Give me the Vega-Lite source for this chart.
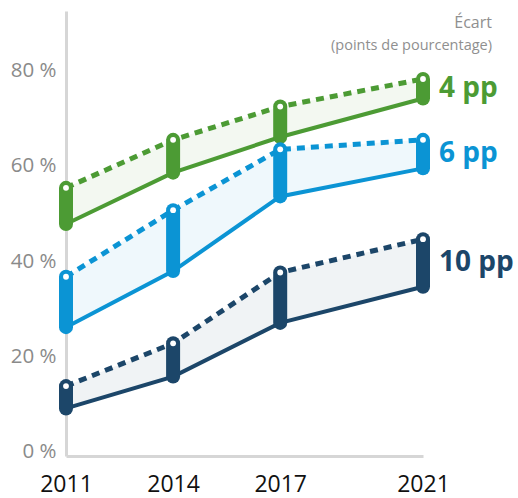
{
  "$schema": "https://vega.github.io/schema/vega-lite/v6.json",
  "autosize": {"type": "none"},
  "width": 357,
  "height": 445,
  "padding": {"left": 66, "top": 11, "right": 95, "bottom": 42},
  "config": {"font": "Open Sans", "view": {"stroke": null}},
  "data": {
    "values": [
      {"year": 2011, "group": "vert", "low": 47.8, "high": 55.4, "label": "4 pp"},
      {"year": 2014, "group": "vert", "low": 58.6, "high": 65.5, "label": "4 pp"},
      {"year": 2017, "group": "vert", "low": 66.1, "high": 72.5, "label": "4 pp"},
      {"year": 2021, "group": "vert", "low": 74.2, "high": 78.3, "label": "4 pp"},
      {"year": 2011, "group": "bleu", "low": 26.1, "high": 36.7, "label": "6 pp"},
      {"year": 2014, "group": "bleu", "low": 37.9, "high": 50.7, "label": "6 pp"},
      {"year": 2017, "group": "bleu", "low": 53.6, "high": 63.5, "label": "6 pp"},
      {"year": 2021, "group": "bleu", "low": 59.5, "high": 65.5, "label": "6 pp"},
      {"year": 2011, "group": "marine", "low": 9.0, "high": 13.7, "label": "10 pp"},
      {"year": 2014, "group": "marine", "low": 15.7, "high": 22.7, "label": "10 pp"},
      {"year": 2017, "group": "marine", "low": 27.0, "high": 37.6, "label": "10 pp"},
      {"year": 2021, "group": "marine", "low": 34.6, "high": 44.6, "label": "10 pp"}
    ]
  },
  "encoding": {
    "x": {
      "field": "year", "type": "quantitative",
      "scale": {"domain": [2011, 2021], "nice": false, "zero": false},
      "axis": {
        "title": null, "values": [2011, 2014, 2017, 2021], "format": "d",
        "ticks": false, "grid": false, "domainColor": "#d6d6d6", "domainWidth": 3,
        "labelFontSize": 23, "labelColor": "#111111", "labelPadding": 17, "labelFlush": false
      }
    },
    "color": {
      "field": "group", "type": "nominal",
      "scale": {"domain": ["vert", "bleu", "marine"], "range": ["#4c9b34", "#0b94d4", "#1c4669"]},
      "legend": null
    }
  },
  "layer": [
    {
      "mark": {"type": "area", "fillOpacity": 0.065},
      "encoding": {
        "y": {
          "field": "high", "type": "quantitative",
          "scale": {"domain": [-1, 92.6], "nice": false, "zero": false},
          "axis": {
            "title": null, "values": [0, 20, 40, 60, 80], "labelExpr": "datum.value + ' %'",
            "ticks": false, "grid": false, "domainColor": "#d6d6d6", "domainWidth": 3,
            "labelFontSize": 20.5, "labelColor": "#8a8a8a", "labelPadding": 10
          }
        },
        "y2": {"field": "low"}
      }
    },
    {
      "mark": {"type": "line", "strokeWidth": 4},
      "encoding": {"y": {"field": "low", "type": "quantitative"}}
    },
    {
      "mark": {"type": "line", "strokeWidth": 5, "strokeDash": [8, 6]},
      "encoding": {"y": {"field": "high", "type": "quantitative"}}
    },
    {
      "mark": {"type": "rule", "strokeWidth": 14, "strokeCap": "round"},
      "encoding": {"y": {"field": "low", "type": "quantitative"}, "y2": {"field": "high"}}
    },
    {
      "mark": {"type": "point", "filled": true, "opacity": 1, "size": 34},
      "encoding": {"y": {"field": "high", "type": "quantitative"}, "color": {"value": "white"}}
    },
    {
      "transform": [
        {"filter": "datum.year == 2021"},
        {"fold": ["low", "high"], "as": ["k", "v"]},
        {"aggregate": [{"op": "mean", "field": "v", "as": "mid"}], "groupby": ["year", "group", "label"]}
      ],
      "mark": {"type": "text", "align": "left", "baseline": "middle", "dx": 16, "fontSize": 28, "fontWeight": "bold"},
      "encoding": {"y": {"field": "mid", "type": "quantitative"}, "text": {"field": "label"}}
    },
    {
      "transform": [{"filter": "datum.year == 2021 && datum.group == 'vert'"}],
      "mark": {"type": "text", "text": "Écart", "align": "right", "baseline": "middle", "dx": 69, "fontSize": 16, "fontWeight": 400},
      "encoding": {"y": {"datum": 90.1}, "color": {"value": "#8f8f8f"}}
    },
    {
      "transform": [{"filter": "datum.year == 2021 && datum.group == 'vert'"}],
      "mark": {"type": "text", "text": "(points de pourcentage)", "align": "right", "baseline": "middle", "dx": 69, "fontSize": 14.5, "fontWeight": 400},
      "encoding": {"y": {"datum": 85.3}, "color": {"value": "#8f8f8f"}}
    }
  ]
}
